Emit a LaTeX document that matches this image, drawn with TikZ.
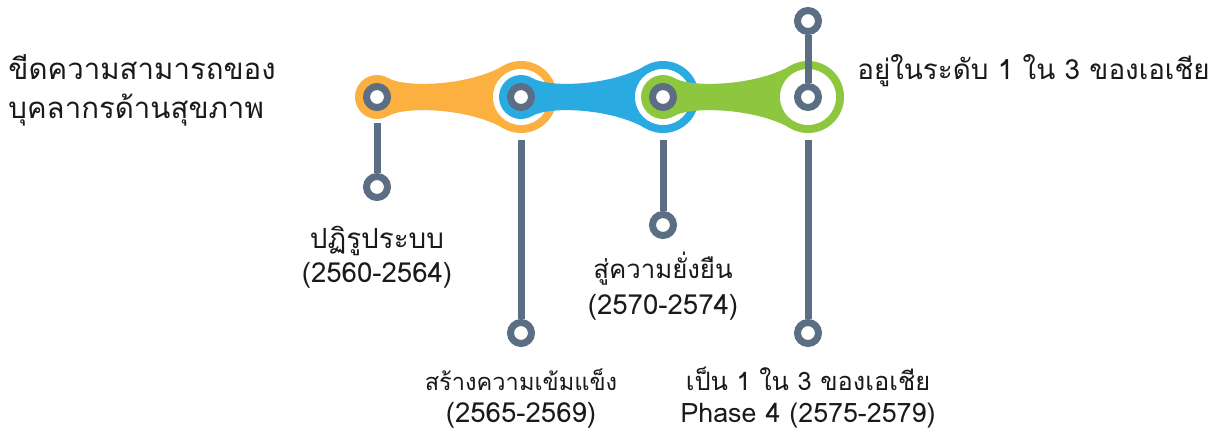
\documentclass[tikz,border=0pt]{standalone}
\usepackage{fontspec}
\newfontfamily\thai[Script=Thai]{Loma}
\usetikzlibrary{calc}
\definecolor{orangeL}{HTML}{FBB040}
\definecolor{blueL}{HTML}{29ABE2}
\definecolor{greenL}{HTML}{8DC63F}
\definecolor{slate}{HTML}{5B6E84}
\definecolor{ink}{HTML}{1A1A1A}
\newcommand\chainlink[3]{%
  \fill[#3] (#1,97) circle[radius=22];
  \fill[#3] (#2,97) circle[radius=36];
  \fill[#3] (#1+11,78) .. controls (#1+28,88) and (#2-53,86) .. (#2-18,66)
     -- (#2-18,128) .. controls (#2-53,108) and (#1+28,106) .. (#1+11,116) -- cycle;
  \fill[white] (#2,97) circle[radius=28];
}
\newcommand\fs[1]{\fontsize{#1}{#1}\selectfont}
\tikzset{
  pinring/.style={circle, draw=slate, line width=3.5pt, fill=white, inner sep=0pt, minimum size=10.5pt},
  stem/.style={draw=slate, line width=3.5pt},
  lbl/.style={text=ink, font=\thai, inner sep=0pt, anchor=base}
}
\begin{document}
\begin{tikzpicture}[x=0.5pt,y=-0.5pt]
\useasboundingbox[fill=white] (0,0) rectangle (1224,434);
\chainlink{377}{521}{orangeL}
\chainlink{521}{663}{blueL}
\chainlink{663}{808}{greenL}
% pins
\node[pinring] (p1) at (377,97) {};
\node[pinring] (p2) at (521,97) {};
\node[pinring] (p3) at (663,97) {};
\node[pinring] (p4) at (808,97) {};
% stem ends
\node[pinring] (e1) at (377,187) {};
\node[pinring] (e2) at (521,333) {};
\node[pinring] (e3) at (663,225) {};
\node[pinring] (e4) at (808,333) {};
\node[pinring] (t4) at (808,21) {};
\coordinate (s1) at (377,123);
\coordinate (s2) at (521,140);
\coordinate (s3) at (663,140);
\coordinate (s4) at (808,140);
\draw[stem] (s1) -- (e1);
\draw[stem] (s2) -- (e2);
\draw[stem] (s3) -- (e3);
\draw[stem] (s4) -- (e4);
\draw[stem] (t4) -- (p4);
% labels
\node[lbl] (l1a) at (377,248) {\fs{13.9}ปฏิรูประบบ};
\node[lbl] (l1b) at (377,282) {\fs{13.8}(2560-2564)};
\node[lbl] (l2a) at (521,390) {\fs{11.8}สร้างความเข้มแข็ง};
\node[lbl] (l2b) at (521,422) {\fs{13.8}(2565-2569)};
\node[lbl] (l3a) at (663,278) {\fs{12.9}สู่ความยั่งยืน};
\node[lbl] (l3b) at (663,314) {\fs{13.8}(2570-2574)};
\node[lbl] (l4a) at (808,390) {\fs{12.7}เป็น 1 ใน 3 ของเอเชีย};
\node[lbl] (l4b) at (808,422) {\fs{13.4}Phase 4 (2575-2579)};
\node[lbl, anchor=base west] (left1) at (8,79) {\fs{14.7}ขีดความสามารถของ};
\node[lbl, anchor=base west] (left2) at (8,118) {\fs{14.7}บุคลากรด้านสุขภาพ};
\node[lbl, anchor=base west] (right) at (857,79) {\fs{13.9}อยู่ในระดับ 1 ใน 3 ของเอเชีย};
\end{tikzpicture}
\end{document}
